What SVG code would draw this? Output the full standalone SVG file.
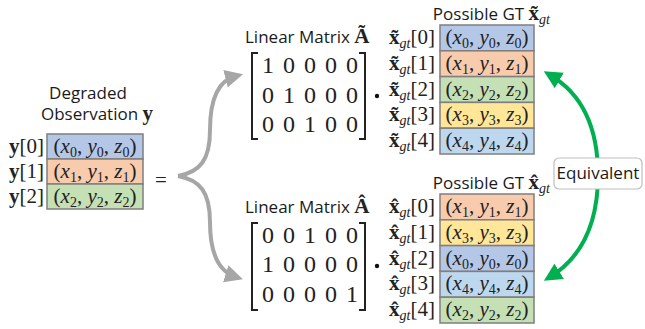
<svg xmlns="http://www.w3.org/2000/svg" width="645" height="329" viewBox="0 0 645 329">
<defs>
<style>
.sans{font-family:"Open Sans","Noto Sans",sans-serif;font-size:17px;fill:#1a1a1a}
.m{font-family:"Liberation Serif",serif;font-size:21px;fill:#222}
.c{text-anchor:middle}
.e{text-anchor:end}
.i{font-style:italic}
.b{font-weight:bold}
.s{font-size:14px}
.cell{stroke:#7f7f7f;stroke-width:1.5}
.blue{fill:#b4c7e7}
.orange{fill:#f8cbad}
.green{fill:#c5e0b4}
.yellow{fill:#ffe699}
.lblue{fill:#bdd7ee}
.mat{font-family:"Liberation Serif",serif;font-size:24px;fill:#222;text-anchor:middle}
.br{fill:none;stroke:#222;stroke-width:2}
.gray{fill:none;stroke:#a6a6a6;stroke-width:4}
.grn{fill:none;stroke:#00b050;stroke-width:4}
</style>
<marker id="ag" viewBox="0 0 10 10" refX="6" refY="5" markerWidth="4.5" markerHeight="4.5" orient="auto" markerUnits="strokeWidth">
<path d="M0,0 L10,5 L0,10 z" fill="#a6a6a6"/>
</marker>
<marker id="agr" viewBox="0 0 10 10" refX="6" refY="5" markerWidth="4.5" markerHeight="4.5" orient="auto-start-reverse" markerUnits="strokeWidth">
<path d="M0,0 L10,5 L0,10 z" fill="#00b050"/>
</marker>
</defs>
<rect width="645" height="329" fill="#fff"/>

<g id="connectors">
<path class="gray" d="M178,176 C200,172 210,160 210,130 C210,96 220,80 236,76" marker-end="url(#ag)"/>
<path class="gray" d="M178,176 C200,180 210,192 210,222 C210,256 220,272 236,277" marker-end="url(#ag)"/>
<path class="grn" d="M550,75 C584,95 598,130 598,175 C598,220 584,256 550,277" marker-start="url(#agr)" marker-end="url(#agr)"/>
</g>

<g id="observation">
<text class="sans c" x="88" y="99">Degraded</text>
<text class="sans c" x="97" y="120">Observation <tspan class="m b" font-size="20px">y</tspan></text>
<rect class="cell blue" x="47" y="134" width="96" height="25"/>
<rect class="cell orange" x="47" y="159" width="96" height="25"/>
<rect class="cell green" x="47" y="184" width="96" height="25"/>
<text class="m e" x="44" y="153"><tspan class="b">y</tspan>[0]</text>
<text class="m e" x="44" y="178"><tspan class="b">y</tspan>[1]</text>
<text class="m e" x="44" y="203"><tspan class="b">y</tspan>[2]</text>
<text class="m c" x="95" y="153">(<tspan class="i">x</tspan><tspan class="s" dy="4">0</tspan><tspan dy="-4">, </tspan><tspan class="i">y</tspan><tspan class="s" dy="4">0</tspan><tspan dy="-4">, </tspan><tspan class="i">z</tspan><tspan class="s" dy="4">0</tspan><tspan dy="-4">)</tspan></text>
<text class="m c" x="95" y="178">(<tspan class="i">x</tspan><tspan class="s" dy="4">1</tspan><tspan dy="-4">, </tspan><tspan class="i">y</tspan><tspan class="s" dy="4">1</tspan><tspan dy="-4">, </tspan><tspan class="i">z</tspan><tspan class="s" dy="4">1</tspan><tspan dy="-4">)</tspan></text>
<text class="m c" x="95" y="203">(<tspan class="i">x</tspan><tspan class="s" dy="4">2</tspan><tspan dy="-4">, </tspan><tspan class="i">y</tspan><tspan class="s" dy="4">2</tspan><tspan dy="-4">, </tspan><tspan class="i">z</tspan><tspan class="s" dy="4">2</tspan><tspan dy="-4">)</tspan></text>
</g>

<g id="equals">
<text class="m c" x="161" y="187" font-size="46px">=</text>
</g>

<g id="matrix-top">
<text class="sans" x="245" y="43">Linear Matrix <tspan class="m b" font-size="22px">Ã</tspan></text>
<path class="br" d="M258,53 H252 V139 H258"/>
<path class="br" d="M359,53 H365 V139 H359"/>
<text class="mat" y="73"><tspan x="268">1</tspan><tspan x="289">0</tspan><tspan x="310">0</tspan><tspan x="331">0</tspan><tspan x="352">0</tspan></text>
<text class="mat" y="103"><tspan x="268">0</tspan><tspan x="289">1</tspan><tspan x="310">0</tspan><tspan x="331">0</tspan><tspan x="352">0</tspan></text>
<text class="mat" y="132"><tspan x="268">0</tspan><tspan x="289">0</tspan><tspan x="310">1</tspan><tspan x="331">0</tspan><tspan x="352">0</tspan></text>
<circle cx="377" cy="96" r="2.2" fill="#111"/>
</g>

<g id="gt-top">
<text class="sans e" x="550" y="20">Possible GT <tspan class="m b" font-size="20px">x̃</tspan><tspan class="m i s" dy="4">gt</tspan></text>
<rect class="cell blue" x="440" y="25" width="94" height="25.8"/>
<rect class="cell orange" x="440" y="50.8" width="94" height="25.8"/>
<rect class="cell green" x="440" y="76.6" width="94" height="25.8"/>
<rect class="cell yellow" x="440" y="102.4" width="94" height="25.8"/>
<rect class="cell lblue" x="440" y="128.2" width="94" height="25.8"/>
<text class="m e" x="435" y="44"><tspan class="b">x̃</tspan><tspan class="i s" dy="4">gt</tspan><tspan dy="-4">[0]</tspan></text>
<text class="m e" x="435" y="70"><tspan class="b">x̃</tspan><tspan class="i s" dy="4">gt</tspan><tspan dy="-4">[1]</tspan></text>
<text class="m e" x="435" y="96"><tspan class="b">x̃</tspan><tspan class="i s" dy="4">gt</tspan><tspan dy="-4">[2]</tspan></text>
<text class="m e" x="435" y="121"><tspan class="b">x̃</tspan><tspan class="i s" dy="4">gt</tspan><tspan dy="-4">[3]</tspan></text>
<text class="m e" x="435" y="147"><tspan class="b">x̃</tspan><tspan class="i s" dy="4">gt</tspan><tspan dy="-4">[4]</tspan></text>
<text class="m c" x="487" y="44">(<tspan class="i">x</tspan><tspan class="s" dy="4">0</tspan><tspan dy="-4">, </tspan><tspan class="i">y</tspan><tspan class="s" dy="4">0</tspan><tspan dy="-4">, </tspan><tspan class="i">z</tspan><tspan class="s" dy="4">0</tspan><tspan dy="-4">)</tspan></text>
<text class="m c" x="487" y="70">(<tspan class="i">x</tspan><tspan class="s" dy="4">1</tspan><tspan dy="-4">, </tspan><tspan class="i">y</tspan><tspan class="s" dy="4">1</tspan><tspan dy="-4">, </tspan><tspan class="i">z</tspan><tspan class="s" dy="4">1</tspan><tspan dy="-4">)</tspan></text>
<text class="m c" x="487" y="96">(<tspan class="i">x</tspan><tspan class="s" dy="4">2</tspan><tspan dy="-4">, </tspan><tspan class="i">y</tspan><tspan class="s" dy="4">2</tspan><tspan dy="-4">, </tspan><tspan class="i">z</tspan><tspan class="s" dy="4">2</tspan><tspan dy="-4">)</tspan></text>
<text class="m c" x="487" y="121">(<tspan class="i">x</tspan><tspan class="s" dy="4">3</tspan><tspan dy="-4">, </tspan><tspan class="i">y</tspan><tspan class="s" dy="4">3</tspan><tspan dy="-4">, </tspan><tspan class="i">z</tspan><tspan class="s" dy="4">3</tspan><tspan dy="-4">)</tspan></text>
<text class="m c" x="487" y="147">(<tspan class="i">x</tspan><tspan class="s" dy="4">4</tspan><tspan dy="-4">, </tspan><tspan class="i">y</tspan><tspan class="s" dy="4">4</tspan><tspan dy="-4">, </tspan><tspan class="i">z</tspan><tspan class="s" dy="4">4</tspan><tspan dy="-4">)</tspan></text>
</g>

<g id="matrix-bottom">
<text class="sans" x="245" y="213">Linear Matrix <tspan class="m b" font-size="22px">Â</tspan></text>
<path class="br" d="M258,223 H252 V310 H258"/>
<path class="br" d="M359,223 H365 V310 H359"/>
<text class="mat" y="243"><tspan x="268">0</tspan><tspan x="289">0</tspan><tspan x="310">1</tspan><tspan x="331">0</tspan><tspan x="352">0</tspan></text>
<text class="mat" y="272"><tspan x="268">1</tspan><tspan x="289">0</tspan><tspan x="310">0</tspan><tspan x="331">0</tspan><tspan x="352">0</tspan></text>
<text class="mat" y="302"><tspan x="268">0</tspan><tspan x="289">0</tspan><tspan x="310">0</tspan><tspan x="331">0</tspan><tspan x="352">1</tspan></text>
<circle cx="377" cy="266" r="2.2" fill="#111"/>
</g>

<g id="gt-bottom">
<text class="sans e" x="550" y="189">Possible GT <tspan class="m b" font-size="20px">x̂</tspan><tspan class="m i s" dy="4">gt</tspan></text>
<rect class="cell orange" x="440" y="194" width="94" height="25.8"/>
<rect class="cell yellow" x="440" y="219.8" width="94" height="25.8"/>
<rect class="cell blue" x="440" y="245.6" width="94" height="25.8"/>
<rect class="cell lblue" x="440" y="271.4" width="94" height="25.8"/>
<rect class="cell green" x="440" y="297.2" width="94" height="25.8"/>
<text class="m e" x="435" y="213"><tspan class="b">x̂</tspan><tspan class="i s" dy="4">gt</tspan><tspan dy="-4">[0]</tspan></text>
<text class="m e" x="435" y="239"><tspan class="b">x̂</tspan><tspan class="i s" dy="4">gt</tspan><tspan dy="-4">[1]</tspan></text>
<text class="m e" x="435" y="265"><tspan class="b">x̂</tspan><tspan class="i s" dy="4">gt</tspan><tspan dy="-4">[2]</tspan></text>
<text class="m e" x="435" y="290"><tspan class="b">x̂</tspan><tspan class="i s" dy="4">gt</tspan><tspan dy="-4">[3]</tspan></text>
<text class="m e" x="435" y="316"><tspan class="b">x̂</tspan><tspan class="i s" dy="4">gt</tspan><tspan dy="-4">[4]</tspan></text>
<text class="m c" x="487" y="213">(<tspan class="i">x</tspan><tspan class="s" dy="4">1</tspan><tspan dy="-4">, </tspan><tspan class="i">y</tspan><tspan class="s" dy="4">1</tspan><tspan dy="-4">, </tspan><tspan class="i">z</tspan><tspan class="s" dy="4">1</tspan><tspan dy="-4">)</tspan></text>
<text class="m c" x="487" y="239">(<tspan class="i">x</tspan><tspan class="s" dy="4">3</tspan><tspan dy="-4">, </tspan><tspan class="i">y</tspan><tspan class="s" dy="4">3</tspan><tspan dy="-4">, </tspan><tspan class="i">z</tspan><tspan class="s" dy="4">3</tspan><tspan dy="-4">)</tspan></text>
<text class="m c" x="487" y="265">(<tspan class="i">x</tspan><tspan class="s" dy="4">0</tspan><tspan dy="-4">, </tspan><tspan class="i">y</tspan><tspan class="s" dy="4">0</tspan><tspan dy="-4">, </tspan><tspan class="i">z</tspan><tspan class="s" dy="4">0</tspan><tspan dy="-4">)</tspan></text>
<text class="m c" x="487" y="290">(<tspan class="i">x</tspan><tspan class="s" dy="4">4</tspan><tspan dy="-4">, </tspan><tspan class="i">y</tspan><tspan class="s" dy="4">4</tspan><tspan dy="-4">, </tspan><tspan class="i">z</tspan><tspan class="s" dy="4">4</tspan><tspan dy="-4">)</tspan></text>
<text class="m c" x="487" y="316">(<tspan class="i">x</tspan><tspan class="s" dy="4">2</tspan><tspan dy="-4">, </tspan><tspan class="i">y</tspan><tspan class="s" dy="4">2</tspan><tspan dy="-4">, </tspan><tspan class="i">z</tspan><tspan class="s" dy="4">2</tspan><tspan dy="-4">)</tspan></text>
</g>

<g id="equivalent">
<rect x="554" y="158" width="88" height="31" rx="5" fill="#fff" stroke="#bfbfbf" stroke-width="1.2"/>
<text class="sans c" x="598" y="179" font-size="16.5px">Equivalent</text>
</g>
</svg>
